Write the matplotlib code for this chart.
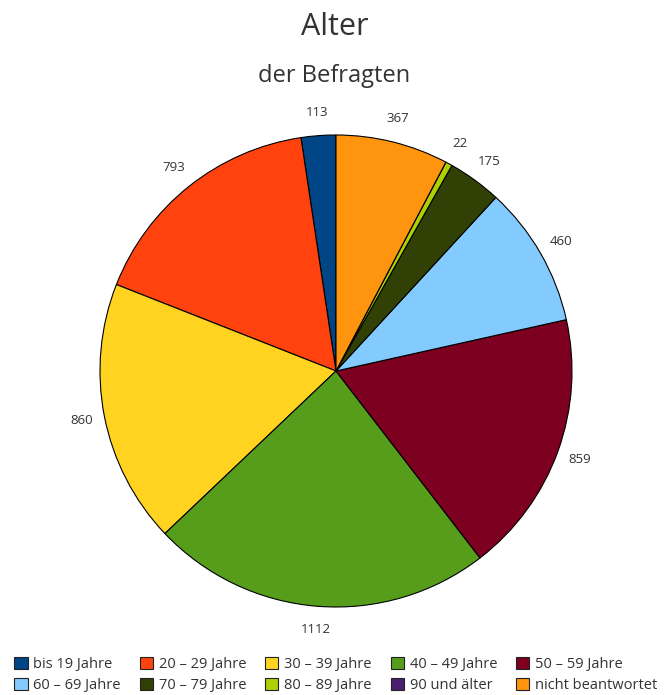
import numpy as np
import matplotlib.pyplot as plt
from matplotlib.patches import Patch

plt.rcParams['font.family'] = ['Open Sans', 'DejaVu Sans']

categories = ['bis 19 Jahre', '20 – 29 Jahre', '30 – 39 Jahre', '40 – 49 Jahre',
              '50 – 59 Jahre', '60 – 69 Jahre', '70 – 79 Jahre', '80 – 89 Jahre',
              '90 und älter', 'nicht beantwortet']
values = [113, 793, 860, 1112, 859, 460, 175, 22, 0, 367]
colors = ['#004586', '#ff420e', '#ffd320', '#579d1c', '#7e0021',
          '#83caff', '#314004', '#aecf00', '#4b1f6f', '#ff950e']

W, H = 669, 695
fig = plt.figure(figsize=(W / 100, H / 100), dpi=100)
ax = fig.add_axes([0, 0, 1, 1])

cx, cy, R = 336, H - 371, 236
wedges, _ = ax.pie(values, colors=colors, startangle=90, counterclock=True,
                   center=(cx, cy), radius=R, frame=True,
                   wedgeprops=dict(edgecolor='black', linewidth=0.8))
ax.set_xlim(0, W)
ax.set_ylim(0, H)
ax.set_aspect('equal')
ax.axis('off')

for w, v in zip(wedges, values):
    if v == 0:
        continue
    mid = np.deg2rad((w.theta1 + w.theta2) / 2)
    r = R * 1.1
    ax.text(cx + r * np.cos(mid), cy + r * np.sin(mid), str(v),
            ha='center', va='center', fontsize=9.5, color='#333333')

fig.text(0.5, 1 - 27 / H, 'Alter', ha='center', va='center',
         fontsize=22, color='#333333')
fig.text(0.5, 1 - 76 / H, 'der Befragten', ha='center', va='center',
         fontsize=17, color='#333333')

# legend fills column by column, so interleave to get row-wise order
order = [0, 5, 1, 6, 2, 7, 3, 8, 4, 9]
handles = [Patch(facecolor=colors[i], edgecolor='#222222', linewidth=0.8) for i in order]
labels = [categories[i] for i in order]
fig.legend(handles, labels, ncol=5, loc='lower center',
           bbox_to_anchor=(0.502, -0.016), frameon=False, fontsize=10.5,
           handlelength=0.9, handleheight=0.9, handletextpad=0.4,
           columnspacing=1.3, labelspacing=0.4, labelcolor='#333333')

fig.savefig('out.png', dpi=100)
